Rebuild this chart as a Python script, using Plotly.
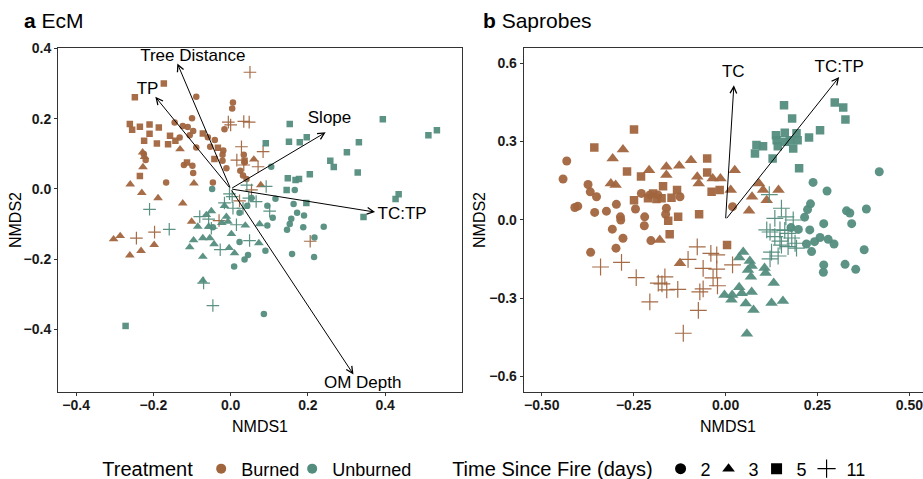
import plotly.graph_objects as go

BURNED = "#A1653E"
UNBURNED = "#538D7E"
FONT = "Liberation Sans, Arial, Helvetica, sans-serif"

# ---------------- Panel a: EcM (NMDS1, NMDS2) ----------------
ecm_burned_d2 = [(-0.089, 0.262), (0.006, 0.246), (0.004, 0.229), (-0.145, 0.189), (-0.100, 0.201),
                 (-0.124, 0.179), (-0.111, 0.176), (-0.097, 0.165), (-0.106, 0.153), (-0.132, 0.146),
                 (-0.059, 0.147), (-0.041, 0.139), (-0.089, 0.118), (-0.053, 0.120), (-0.016, 0.170),
                 (-0.021, 0.097), (-0.021, 0.080), (-0.011, 0.059), (-0.121, 0.068), (-0.099, 0.066),
                 (-0.097, 0.045), (-0.167, 0.018), (-0.220, 0.082), (-0.225, 0.099), (-0.046, 0.018),
                 (0.034, 0.097), (0.036, 0.076), (0.025, 0.052), (0.032, 0.038), (0.041, 0.028),
                 (-0.019, 0.109)]
ecm_burned_d3 = [(-0.228, 0.104), (-0.223, 0.091), (-0.227, 0.062), (-0.260, 0.013), (-0.230, -0.011),
                 (-0.188, -0.026), (-0.131, 0.113), (-0.095, 0.016), (-0.124, -0.041), (-0.101, -0.093),
                 (0.060, 0.084), (0.078, 0.011), (-0.303, -0.143), (-0.286, -0.134), (-0.261, -0.189),
                 (-0.232, -0.176), (-0.198, -0.159)]
ecm_burned_d5 = [(-0.248, 0.261), (-0.173, 0.300), (-0.261, 0.185), (-0.255, 0.168), (-0.235, 0.177),
                 (-0.210, 0.183), (-0.186, 0.175), (-0.210, 0.157), (-0.224, 0.137), (-0.191, 0.129),
                 (-0.157, 0.151), (-0.162, 0.127), (-0.143, 0.137), (-0.072, 0.158), (-0.033, 0.117),
                 (-0.042, 0.085), (-0.113, 0.075), (-0.235, 0.037), (0.036, 0.080)]
ecm_burned_d11 = [(0.050, 0.332), (-0.006, 0.190), (0.000, 0.182), (0.034, 0.192), (0.048, 0.190),
                  (0.028, 0.120), (0.084, 0.106), (0.016, 0.082), (0.071, 0.063), (0.034, 0.068),
                  (0.054, -0.003), (0.023, -0.034), (-0.030, -0.090), (-0.197, -0.123), (-0.244, -0.140),
                  (0.206, -0.149)]
ecm_unburned_d2 = [(-0.048, 0.000), (0.105, 0.063), (0.166, -0.003), (0.116, -0.028), (0.163, -0.043),
                   (0.095, -0.048), (0.043, -0.048), (0.172, -0.068), (0.190, -0.076), (0.109, -0.082),
                   (0.157, -0.085), (0.153, -0.100), (0.146, -0.116), (0.188, -0.109), (0.241, -0.108),
                   (0.095, -0.104), (0.023, -0.068), (0.023, -0.151), (0.045, -0.188), (0.036, -0.201),
                   (0.090, -0.176), (0.159, -0.185), (0.216, -0.194), (0.217, -0.138), (0.009, -0.221),
                   (0.086, -0.356), (-0.046, -0.109), (0.054, -0.026)]
ecm_unburned_d3 = [(-0.016, -0.048), (-0.050, -0.063), (-0.063, -0.074), (-0.085, -0.107), (-0.057, -0.107),
                   (-0.011, -0.079), (-0.007, -0.093), (0.038, -0.104), (0.075, -0.100), (0.002, -0.128),
                   (-0.096, -0.146), (-0.072, -0.140), (-0.054, -0.140), (-0.043, -0.157), (-0.106, -0.166),
                   (-0.072, -0.193), (-0.004, -0.168), (0.010, -0.183), (0.073, -0.154), (-0.072, -0.261),
                   (-0.023, -0.097)]
ecm_unburned_d5 = [(0.153, 0.185), (0.394, 0.198), (0.091, 0.130), (0.151, 0.134), (0.179, 0.133),
                   (0.197, 0.147), (0.332, 0.133), (0.301, 0.104), (0.258, 0.080), (0.267, 0.062),
                   (0.329, 0.047), (0.205, 0.042), (0.148, 0.030), (0.168, 0.025), (0.177, 0.028),
                   (0.145, -0.003), (0.512, 0.153), (0.534, 0.167), (0.435, -0.015), (0.427, -0.029),
                   (0.196, -0.040), (0.344, -0.080), (-0.272, -0.390)]
ecm_unburned_d11 = [(-0.210, -0.058), (-0.159, -0.115), (-0.080, -0.079), (-0.057, -0.086), (0.006, -0.055),
                    (0.032, -0.055), (0.066, -0.036), (0.047, -0.026), (0.101, -0.063), (-0.050, -0.112),
                    (0.015, -0.102), (0.049, -0.147), (-0.027, -0.173), (-0.046, -0.332), (0.004, -0.022),
                    (0.042, 0.011), (0.092, 0.007), (-0.003, -0.014), (-0.070, -0.268), (-0.016, -0.040)]

ecm_vec_names = ["Tree Distance", "TP", "Slope", "TC:TP", "OM Depth"]
ecm_vec_x = [-0.138, -0.195, 0.246, 0.374, 0.318]
ecm_vec_y = [0.357, 0.262, 0.161, -0.066, -0.528]
ecm_lab_x = [-0.098, -0.215, 0.256, 0.444, 0.342]
ecm_lab_y = [0.375, 0.283, 0.199, -0.074, -0.554]

# ---------------- Panel b: Saprobes ----------------
sap_burned_d2 = [(-0.432, 0.225), (-0.442, 0.156), (-0.374, 0.135), (-0.368, 0.107), (-0.351, 0.088),
                 (-0.410, 0.047), (-0.402, 0.052), (-0.356, 0.028), (-0.324, 0.033), (-0.297, 0.059),
                 (-0.286, 0.011), (-0.285, -0.001), (-0.308, -0.036), (-0.279, -0.071), (-0.245, 0.041),
                 (-0.220, 0.011), (-0.221, -0.023), (-0.229, 0.101), (-0.206, 0.095), (-0.161, 0.044),
                 (-0.163, 0.021), (-0.124, 0.088), (-0.203, -0.080), (-0.367, -0.125), (-0.298, -0.109),
                 (0.019, 0.050), (-0.184, 0.095)]
sap_burned_d3 = [(-0.279, 0.269), (-0.307, 0.235), (-0.312, 0.139), (-0.299, 0.133), (-0.208, 0.190),
                 (-0.161, 0.203), (-0.161, 0.171), (-0.126, 0.207), (-0.094, 0.228), (-0.077, 0.165),
                 (-0.073, 0.139), (-0.035, 0.158), (-0.014, 0.158), (0.025, 0.190), (0.014, 0.114),
                 (0.091, 0.139), (0.102, 0.114), (0.072, 0.088), (0.144, 0.114), (0.112, 0.075),
                 (0.064, 0.034), (-0.179, -0.078), (-0.124, -0.167)]
sap_burned_d5 = [(-0.249, 0.346), (-0.357, 0.277), (-0.268, 0.185), (-0.230, 0.166), (-0.170, 0.128),
                 (-0.050, 0.235), (-0.050, 0.181), (-0.249, 0.075), (-0.211, 0.082), (-0.197, 0.101),
                 (-0.188, 0.079), (-0.174, 0.082), (-0.147, 0.084), (-0.132, 0.114), (-0.129, 0.011),
                 (-0.156, -0.004), (-0.072, 0.021), (-0.038, 0.107), (-0.016, 0.114), (-0.152, -0.056),
                 (0.004, -0.097)]
sap_burned_d11 = [(-0.077, -0.104), (-0.102, -0.152), (-0.040, -0.129), (-0.024, -0.135), (0.019, -0.173),
                  (-0.061, -0.186), (-0.024, -0.189), (-0.034, -0.223), (-0.022, -0.253), (-0.070, -0.276),
                  (-0.061, -0.265), (-0.074, -0.347), (-0.115, -0.435), (-0.130, -0.267), (-0.165, -0.219),
                  (-0.183, -0.243), (-0.160, -0.269), (-0.206, -0.315), (-0.243, -0.222), (-0.283, -0.163),
                  (-0.340, -0.181), (-0.173, -0.246)]
sap_unburned_d2 = [(0.418, 0.184), (0.238, 0.143), (0.276, 0.110), (0.231, 0.061), (0.223, 0.039),
                   (0.215, 0.010), (0.329, 0.034), (0.338, 0.026), (0.383, 0.041), (0.267, -0.015),
                   (0.343, -0.015), (0.229, -0.039), (0.178, -0.030), (0.198, -0.037), (0.257, -0.068),
                   (0.279, -0.075), (0.295, -0.093), (0.220, -0.093), (0.242, -0.084), (0.234, -0.122),
                   (0.267, -0.173), (0.266, -0.201), (0.325, -0.171), (0.354, -0.190), (0.377, -0.115)]
sap_unburned_d3 = [(0.048, -0.124), (0.037, -0.145), (0.066, -0.158), (0.071, -0.177), (0.061, -0.193),
                   (0.069, -0.218), (0.106, -0.185), (0.109, -0.204), (0.131, -0.242), (0.037, -0.259),
                   (-0.003, -0.288), (0.018, -0.288), (0.016, -0.307), (0.071, -0.277), (0.044, -0.282),
                   (0.055, -0.321), (0.076, -0.346), (0.125, -0.319), (0.156, -0.311), (0.058, -0.437)]
sap_unburned_d5 = [(0.159, 0.439), (0.297, 0.449), (0.320, 0.430), (0.326, 0.384), (0.181, 0.388),
                   (0.257, 0.343), (0.227, 0.315), (0.193, 0.331), (0.161, 0.333), (0.137, 0.324),
                   (0.139, 0.305), (0.142, 0.282), (0.084, 0.286), (0.102, 0.282), (0.080, 0.254),
                   (0.128, 0.235), (0.161, 0.299), (0.184, 0.273), (0.196, 0.305), (0.200, 0.197),
                   (0.175, 0.305)]
sap_unburned_d11 = [(0.119, 0.096), (0.152, 0.044), (0.134, 0.005), (0.164, 0.011), (0.184, -0.001),
                    (0.112, -0.039), (0.148, -0.039), (0.170, -0.052), (0.121, -0.047), (0.134, -0.065),
                    (0.148, -0.082), (0.161, -0.041), (0.180, -0.070), (0.189, -0.090), (0.170, -0.103),
                    (0.152, -0.097), (0.125, -0.124), (0.143, -0.139), (0.121, -0.150), (0.193, -0.109)]

sap_vec_names = ["TC", "TC:TP"]
sap_vec_x = [0.0226, 0.309]
sap_vec_y = [0.515, 0.547]
sap_lab_x = [0.021, 0.309]
sap_lab_y = [0.563, 0.582]

# Legend categories
treatments = ["Burned", "Unburned"]
treatment_colors = [BURNED, UNBURNED]
times = ["2", "3", "5", "11"]
time_symbols = ["circle", "triangle-up", "square", "cross-thin"]

fig = go.Figure()


def add_group(pts, color, sym, size, xa, ya):
    is_cross = sym.startswith("cross")
    fig.add_trace(go.Scatter(
        x=[p[0] for p in pts], y=[p[1] for p in pts], mode="markers",
        xaxis=xa, yaxis=ya, showlegend=False, hoverinfo="skip",
        marker=dict(symbol=sym, size=size, color=color, opacity=0.95,
                    line=dict(width=1.2 if is_cross else 0, color=color))))


sizes_a = {"circle": 6.5, "triangle-up": 8.5, "square": 6.5, "cross-thin": 9}
sizes_b = {"circle": 9, "triangle-up": 11, "square": 8.5, "cross-thin": 12}

groups_a = [(ecm_burned_d2, BURNED, "circle"), (ecm_burned_d3, BURNED, "triangle-up"),
            (ecm_burned_d5, BURNED, "square"), (ecm_burned_d11, BURNED, "cross-thin"),
            (ecm_unburned_d2, UNBURNED, "circle"), (ecm_unburned_d3, UNBURNED, "triangle-up"),
            (ecm_unburned_d5, UNBURNED, "square"), (ecm_unburned_d11, UNBURNED, "cross-thin")]
groups_b = [(sap_burned_d2, BURNED, "circle"), (sap_burned_d3, BURNED, "triangle-up"),
            (sap_burned_d5, BURNED, "square"), (sap_burned_d11, BURNED, "cross-thin"),
            (sap_unburned_d2, UNBURNED, "circle"), (sap_unburned_d3, UNBURNED, "triangle-up"),
            (sap_unburned_d5, UNBURNED, "square"), (sap_unburned_d11, UNBURNED, "cross-thin")]

for pts, col, sym in groups_a:
    add_group(pts, col, sym, sizes_a[sym], "x", "y")
for pts, col, sym in groups_b:
    add_group(pts, col, sym, sizes_b[sym], "x2", "y2")

# vector arrows
for vx, vy in zip(ecm_vec_x, ecm_vec_y):
    fig.add_annotation(x=vx, y=vy, ax=0, ay=0, xref="x", yref="y", axref="x", ayref="y",
                       text="", showarrow=True, arrowhead=5, arrowsize=1.3, arrowwidth=1,
                       arrowcolor="black", standoff=0)
for vx, vy in zip(sap_vec_x, sap_vec_y):
    fig.add_annotation(x=vx, y=vy, ax=0, ay=0, xref="x2", yref="y2", axref="x2", ayref="y2",
                       text="", showarrow=True, arrowhead=5, arrowsize=1.3, arrowwidth=1,
                       arrowcolor="black", standoff=0)

fig.add_trace(go.Scatter(x=ecm_lab_x, y=ecm_lab_y, text=ecm_vec_names, mode="text",
                         xaxis="x", yaxis="y", showlegend=False, hoverinfo="skip",
                         textfont=dict(family=FONT, size=17, color="black")))
fig.add_trace(go.Scatter(x=sap_lab_x, y=sap_lab_y, text=sap_vec_names, mode="text",
                         xaxis="x2", yaxis="y2", showlegend=False, hoverinfo="skip",
                         textfont=dict(family=FONT, size=17, color="black")))

# legend entries
treat_entry_w = [46, 0]
for name, col, ew in zip(treatments, treatment_colors, treat_entry_w):
    fig.add_trace(go.Scatter(x=[None], y=[None], mode="markers", name=name, legend="legend",
                             legendwidth=ew if ew else None,
                             marker=dict(symbol="circle", size=10, color=col)))
time_entry_w = [3, 3, 5, 0]
for name, sym, ew in zip(times, time_symbols, time_entry_w):
    fig.add_trace(go.Scatter(x=[None], y=[None], mode="markers", name=name, legend="legend2",
                             legendwidth=ew if ew else None,
                             marker=dict(symbol=sym, size=11 if sym != "cross-thin" else 13, color="black",
                                         line=dict(width=1.2 if sym == "cross-thin" else 0, color="black"))))

tickfont = dict(family=FONT, size=14, color="#1a1a1a", weight="bold")
axis_common = dict(showgrid=False, zeroline=False, showline=True, linecolor="#333333", linewidth=1,
                   ticks="outside", ticklen=3, tickcolor="#333333", tickfont=tickfont, automargin=False)

fig.update_layout(
    width=923, height=479,
    margin=dict(l=58, r=0, t=48, b=87, autoexpand=False),
    paper_bgcolor="white", plot_bgcolor="white",
    font=dict(family=FONT, color="black"),
    xaxis=dict(domain=[0, 0.4675], range=[-0.447, 0.6], tickvals=[-0.4, -0.2, 0, 0.2, 0.4],
               tickformat=".1f", anchor="y", mirror=True, ticklabelstandoff=-3, **axis_common),
    yaxis=dict(domain=[0, 1], range=[-0.578, 0.401], tickvals=[-0.4, -0.2, 0, 0.2, 0.4],
               tickformat=".1f", anchor="x", mirror=True, **axis_common),
    xaxis2=dict(domain=[0.5384, 1], range=[-0.549, 0.537], tickvals=[-0.5, -0.25, 0, 0.25, 0.5],
                tickformat=".2f", anchor="y2", mirror=True, ticklabelstandoff=-3,
                ticklabeloverflow="allow", **axis_common),
    yaxis2=dict(domain=[0, 1], range=[-0.66, 0.658], tickvals=[-0.6, -0.3, 0, 0.3, 0.6],
                tickformat=".1f", anchor="x2", mirror=False, **axis_common),
    legend=dict(orientation="h", xref="container", yref="container", x=0.1087, xanchor="left",
                y=0.021, yanchor="middle",
                title=dict(text="Treatment", side="left", font=dict(size=20, family=FONT)),
                font=dict(size=18, family=FONT), itemwidth=30, bgcolor="rgba(0,0,0,0)"),
    legend2=dict(orientation="h", xref="container", yref="container", x=0.4877, xanchor="left",
                 y=0.021, yanchor="middle",
                 title=dict(text="Time Since Fire (days)", side="left", font=dict(size=20, family=FONT)),
                 font=dict(size=18, family=FONT), itemwidth=30, bgcolor="rgba(0,0,0,0)"),
)

# panel titles and axis titles
fig.add_annotation(text="<b>a</b> EcM", xref="paper", yref="paper", x=-0.0416, y=1.081,
                   xanchor="left", yanchor="middle", showarrow=False, font=dict(size=21, family=FONT))
fig.add_annotation(text="<b>b</b> Saprobes", xref="paper", yref="paper", x=0.4887, y=1.081,
                   xanchor="left", yanchor="middle", showarrow=False, font=dict(size=21, family=FONT))
for xp in (0.2341, 0.7743):
    fig.add_annotation(text="NMDS1", xref="paper", yref="paper", x=xp, y=-0.1017,
                       xanchor="center", yanchor="middle", showarrow=False, font=dict(size=16, family=FONT))
for xp in (-0.0497, 0.4867):
    fig.add_annotation(text="NMDS2", xref="paper", yref="paper", x=xp, y=0.5, textangle=-90,
                       xanchor="center", yanchor="middle", showarrow=False, font=dict(size=16, family=FONT))

fig.write_html("out.html", config={"displayModeBar": False},
               post_script="document.body.style.margin = '0px';")
